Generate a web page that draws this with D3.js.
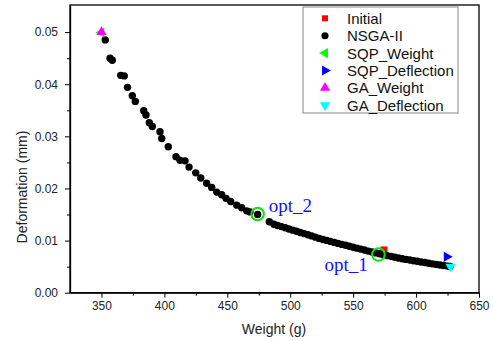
<!DOCTYPE html>
<html>
<head>
<meta charset="utf-8">
<script src="https://cdn.jsdelivr.net/npm/d3@7"></script>
<style>
body { margin: 0; background: #fff; }
</style>
</head>
<body>
<script>
// NSGA-II pareto front
var nsgaWeight = [353.0, 356.8, 358.6, 365.3, 368.1, 370.7, 374.5, 376.9, 383.6, 385.4,
    388.0, 390.4, 396.5, 397.9, 403.1, 409.2, 412.4, 416.4, 419.6, 424.9,
    428.9, 433.6, 437.6, 441.6, 445.5, 449.0, 452.7, 457.5, 461.4, 465.4,
    468.0, 474.1, 483.4, 487, 490, 493, 496, 499, 502, 505,
    508, 511, 514, 517, 520, 523, 526, 529, 532, 535,
    538, 541, 544, 547, 550, 553, 556, 559, 562, 565,
    568, 571, 574, 577, 580, 583, 586, 589, 592, 595,
    598, 601, 604, 607, 610, 613, 616, 619, 622, 625, 627];
var nsgaDeform = [0.0485, 0.0450, 0.0446, 0.0417, 0.0416, 0.0394, 0.0378, 0.0367, 0.0349, 0.0341,
    0.0326, 0.0319, 0.0309, 0.0296, 0.0280, 0.0261, 0.0254, 0.0253, 0.0241, 0.0230,
    0.0220, 0.0210, 0.0202, 0.0193, 0.0188, 0.0181, 0.0175, 0.0168, 0.0163, 0.0157,
    0.0155, 0.0150, 0.0136, 0.01313, 0.01290, 0.01268, 0.01245, 0.01223, 0.01200, 0.01178,
    0.01156, 0.01134, 0.01112, 0.01090, 0.01066, 0.01042, 0.01022, 0.01003, 0.00984, 0.00965,
    0.00946, 0.00927, 0.00909, 0.00890, 0.00872, 0.00855, 0.00837, 0.00818, 0.00798, 0.00780,
    0.00764, 0.00746, 0.00728, 0.00712, 0.00697, 0.00682, 0.00667, 0.00652, 0.00639, 0.00626,
    0.00614, 0.00602, 0.00590, 0.00578, 0.00566, 0.00554, 0.00543, 0.00532, 0.00521, 0.00510, 0.00502];

var initialPt = [574.5, 0.0082];
var sqpWeightPt = [350, 0.0499];
var sqpDeflectionPt = [624.4, 0.0069];
var gaWeightPt = [350, 0.0500];
var gaDeflectionPt = [627.3, 0.0050];

var optNames = ["opt_1", "opt_2"];
var optWeight = [570.1, 474.1];
var optDeform = [0.00733, 0.0151];

var legendNames = ["Initial", "NSGA-II", "SQP_Weight", "SQP_Deflection", "GA_Weight", "GA_Deflection"];
var legendColors = ["#ff0000", "#000000", "#00ff00", "#0000ff", "#ff00ff", "#00ffff"];

var xTicks = [350, 400, 450, 500, 550, 600, 650];
var yTicks = [0, 0.01, 0.02, 0.03, 0.04, 0.05];

var width = 493, height = 341;
var plotL = 70, plotR = 479, plotT = 5, plotB = 292.7;
var sans = "'Liberation Sans', Arial, sans-serif";
var serif = "'Liberation Serif', 'Times New Roman', serif";

var x = d3.scaleLinear().domain([325, 650]).range([plotL, plotR]);
var y = d3.scaleLinear().domain([0, 0.0552]).range([plotB, plotT]);

var svg = d3.select("body").append("svg")
    .attr("width", width)
    .attr("height", height)
    .style("font-family", sans);

// frame
svg.append("rect")
    .attr("x", plotL).attr("y", plotT)
    .attr("width", plotR - plotL).attr("height", plotB - plotT)
    .attr("fill", "none").attr("stroke", "#000").attr("stroke-width", 1.3);

// minor ticks
var xMinor = d3.range(375, 650, 50);
var yMinor = d3.range(0.005, 0.055, 0.01);

svg.append("g")
    .attr("transform", "translate(0," + plotB + ")")
    .call(d3.axisBottom(x).tickValues(xMinor).tickSize(3).tickFormat(""))
    .call(function (g) { g.select(".domain").remove(); });
svg.append("g")
    .attr("transform", "translate(" + plotL + ",0)")
    .call(d3.axisLeft(y).tickValues(yMinor).tickSize(3).tickFormat(""))
    .call(function (g) { g.select(".domain").remove(); });

var xAxis = svg.append("g")
    .attr("transform", "translate(0," + plotB + ")")
    .call(d3.axisBottom(x).tickValues(xTicks).tickSize(5).tickSizeOuter(0).tickPadding(4));
var yAxis = svg.append("g")
    .attr("transform", "translate(" + plotL + ",0)")
    .call(d3.axisLeft(y).tickValues(yTicks).tickSize(5).tickSizeOuter(0).tickPadding(7).tickFormat(d3.format(".2f")));

[xAxis, yAxis].forEach(function (g) {
    g.attr("font-family", null);
    g.select(".domain").attr("stroke-width", 1.3);
    g.selectAll("text")
        .attr("font-size", 12).attr("fill", "#222");
});

svg.append("text")
    .attr("x", 274).attr("y", 334)
    .attr("text-anchor", "middle")
    .attr("font-size", 14).attr("fill", "#222")
    .text("Weight (g)");
svg.append("text")
    .attr("transform", "translate(27,187) rotate(-90)")
    .attr("text-anchor", "middle")
    .attr("font-size", 14).attr("fill", "#222")
    .text("Deformation (mm)");

function tri(rot) {
    return function (p) {
        return "translate(" + x(p[0]) + "," + y(p[1]) + ") rotate(" + rot + ")";
    };
}
var triPath = d3.symbol().type(d3.symbolTriangle).size(45)();

// initial design
svg.append("rect")
    .attr("x", x(initialPt[0]) - 3.5).attr("y", y(initialPt[1]) - 3.5)
    .attr("width", 7).attr("height", 7)
    .attr("fill", "#ff0000");

// nsga-ii front
svg.selectAll(".dot")
    .data(d3.range(nsgaWeight.length))
    .enter().append("circle")
    .attr("class", "dot")
    .attr("cx", function (i) { return x(nsgaWeight[i]); })
    .attr("cy", function (i) { return y(nsgaDeform[i]); })
    .attr("r", 3.7)
    .attr("fill", "#000");

var tris = [
    { p: sqpWeightPt, rot: -90, c: legendColors[2] },
    { p: gaWeightPt, rot: 0, c: legendColors[4] },
    { p: sqpDeflectionPt, rot: 90, c: legendColors[3] },
    { p: gaDeflectionPt, rot: 180, c: legendColors[5] }
];
tris.forEach(function (t) {
    svg.append("path")
        .attr("d", triPath)
        .attr("transform", tri(t.rot)(t.p))
        .attr("fill", t.c);
});

// optimum markers
svg.selectAll(".opt")
    .data(optNames)
    .enter().append("circle")
    .attr("class", "opt")
    .attr("cx", function (d, i) { return x(optWeight[i]); })
    .attr("cy", function (d, i) { return y(optDeform[i]); })
    .attr("r", 6.3)
    .attr("fill", "none")
    .attr("stroke", "#11dd11")
    .attr("stroke-width", 2);

svg.selectAll(".optLabel")
    .data(optNames)
    .enter().append("text")
    .attr("class", "optLabel")
    .attr("x", function (d, i) { return i == 0 ? x(optWeight[i]) - 54 : x(optWeight[i]) + 11; })
    .attr("y", function (d, i) { return i == 0 ? y(optDeform[i]) + 17 : y(optDeform[i]) - 2; })
    .style("font-family", serif)
    .attr("font-size", 19)
    .attr("fill", "#1010ff")
    .text(function (d) { return d; });

// legend
var legend = svg.append("g");
legend.append("rect")
    .attr("x", 303).attr("y", 7)
    .attr("width", 155).attr("height", 106)
    .attr("fill", "#fff").attr("stroke", "#888").attr("stroke-width", 1);

var rowY = function (i) { return 18.3 + i * 17.4; };
var legendSym = [
    d3.symbol().type(d3.symbolSquare).size(36)(),
    d3.symbol().type(d3.symbolCircle).size(40)(),
    triPath, triPath, triPath, triPath
];
var legendRot = [0, 0, -90, 90, 0, 180];

legend.selectAll(".lsym")
    .data(legendNames)
    .enter().append("path")
    .attr("class", "lsym")
    .attr("d", function (d, i) { return legendSym[i]; })
    .attr("transform", function (d, i) { return "translate(325," + rowY(i) + ") rotate(" + legendRot[i] + ")"; })
    .attr("fill", function (d, i) { return legendColors[i]; });

legend.selectAll(".ltext")
    .data(legendNames)
    .enter().append("text")
    .attr("class", "ltext")
    .attr("x", 347)
    .attr("y", function (d, i) { return rowY(i) + 5.5; })
    .attr("font-size", 15)
    .attr("fill", "#111")
    .text(function (d) { return d; });
</script>
</body>
</html>
